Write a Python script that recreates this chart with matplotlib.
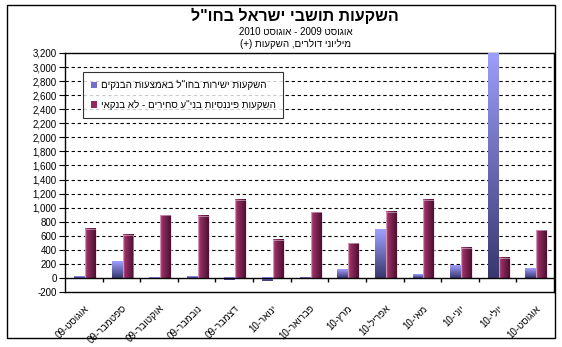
import re
import matplotlib
matplotlib.use('Agg')
import matplotlib.pyplot as plt
import numpy as np
from matplotlib.patches import Rectangle, Patch
from matplotlib.colors import to_rgb

plt.rcParams['font.family'] = ['Liberation Sans', 'DejaVu Sans']

# נתונים
months = ['אוגוסט-09', 'ספטמבר-09', 'אוקטובר-09', 'נובמבר-09', 'דצמבר-09',
          'ינואר-10', 'פברואר-10', 'מרץ-10', 'אפריל-10', 'מאי-10',
          'יוני-10', 'יולי-10', 'אוגוסט-10']
direct_banks = [20, 233, -20, 20, -33, -48, 5, 125, 686, 48, 176, 3300, 133]
financial_nonbank = [700, 612, 890, 884, 1112, 543, 938, 495, 943, 1112, 433, 286, 676]
series_names = ['השקעות ישירות בחו"ל באמצעות הבנקים',
                'השקעות פיננסיות בני"ע סחירים - לא בנקאי']
title = 'השקעות תושבי ישראל בחו"ל'
subtitle1 = 'אוגוסט 2009 - אוגוסט 2010'
subtitle2 = 'מיליוני דולרים, השקעות (+)'
yticks = list(range(-200, 3201, 200))


def heb(s):
    # matplotlib has no bidi, so put RTL text in visual order
    r = s[::-1]
    r = re.sub(r'[0-9A-Za-z]+', lambda m: m.group(0)[::-1], r)
    return r.translate(str.maketrans('()', ')('))


def grad(c1, c2, n=64):
    a, b = np.array(to_rgb(c1)), np.array(to_rgb(c2))
    t = np.linspace(0, 1, n)[:, None]
    return a + (b - a) * t


W, H = 562, 347
fig = plt.figure(figsize=(W / 100, H / 100), dpi=100)
ax = fig.add_axes([65 / W, 1 - 292 / H, (554 - 65) / W, (292 - 53) / H])

x = np.arange(len(months))
bw = 0.29
b1 = ax.bar(x - bw / 2 + 0.03, direct_banks, bw, facecolor='none', edgecolor='none', zorder=3)
b2 = ax.bar(x + bw / 2 + 0.03, financial_nonbank, bw, facecolor='none', edgecolor='#e8c8d8', linewidth=0.4, zorder=4)

blue_g = grad('#a0a0ff', '#383870')[:, None, :]
mag_g = np.concatenate([grad('#c06090', '#942d60', 12), grad('#942d60', '#4a1030', 40)])[None, :, :]
for r in b1:
    y0, y1 = sorted([r.get_y(), r.get_y() + r.get_height()])
    ax.imshow(blue_g, extent=[r.get_x(), r.get_x() + r.get_width(), y0, y1],
              aspect='auto', zorder=3, interpolation='bilinear')
for r in b2:
    y0, y1 = sorted([r.get_y(), r.get_y() + r.get_height()])
    ax.imshow(mag_g, extent=[r.get_x(), r.get_x() + r.get_width(), y0, y1],
              aspect='auto', zorder=3, interpolation='bilinear')

ax.set_xlim(-0.5, len(months) - 0.5)
ax.set_ylim(-200, 3200)

# קווי רשת מקווקווים
for v in yticks:
    if v not in (-200, 0, 3200):
        ax.axhline(v, color='black', lw=0.8, ls=(0, (3, 2.5)), zorder=1)
ax.axhline(0, color='black', lw=1, zorder=5)
ax.vlines(np.arange(len(months) - 1) + 0.5, -55, 0, color='black', lw=1, zorder=5)

ax.set_yticks(yticks)
ax.set_yticklabels([f'{v:,}' for v in yticks], fontsize=7)
ax.tick_params(axis='y', direction='out', length=4, width=0.8, pad=2)
ax.set_xticks(x)
ax.set_xticklabels([heb(m) for m in months], rotation=45, ha='right', va='top',
                   rotation_mode='anchor', fontsize=7)
ax.tick_params(axis='x', length=0, pad=8)
for s in ax.spines.values():
    s.set_linewidth(1)

handles = [Patch(facecolor='#7070d0', edgecolor='none'),
           Patch(facecolor='#8e2a5c', edgecolor='none')]
leg = ax.legend(handles, [heb(n) for n in series_names], loc='upper left',
                bbox_to_anchor=(0.037, 0.92), fontsize=7, frameon=True,
                fancybox=False, edgecolor='black', handlelength=0.6,
                handleheight=0.6, handletextpad=0.4, labelspacing=1.0,
                borderpad=0.8, borderaxespad=0)
leg.get_frame().set_linewidth(0.8)
leg.set_zorder(10)

fig.text(295 / W, 1 - 16 / H, heb(title), ha='center', va='center', fontsize=11.5, fontweight='bold')
fig.text(296 / W, 1 - 32 / H, heb(subtitle1), ha='center', va='center', fontsize=7)
fig.text(296 / W, 1 - 44 / H, heb(subtitle2), ha='center', va='center', fontsize=7)

fig.add_artist(Rectangle((7 / W, 1 - 338 / H), 548 / W, 333 / H, transform=fig.transFigure,
                         fill=False, lw=1, ec='black'))

fig.savefig('out.png', dpi=100)
